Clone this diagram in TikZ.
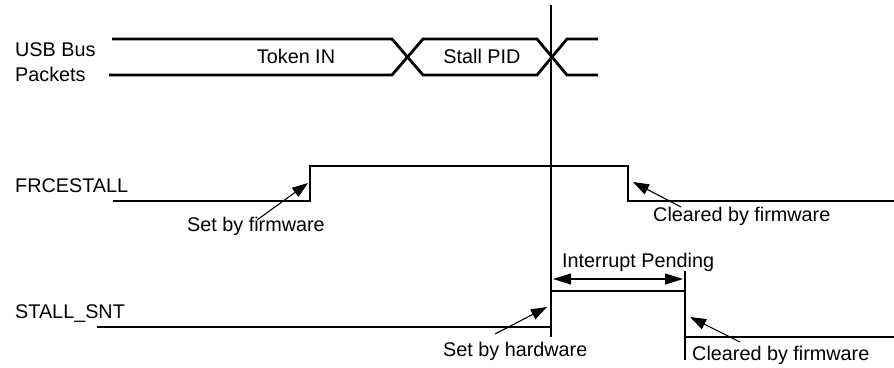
\documentclass[tikz,border=0pt]{standalone}
\usepackage{fontspec}
\setmainfont{Liberation Sans}
\usetikzlibrary{arrows.meta}
\tikzset{
  sig/.style={line width=2.8pt, line join=miter},
  marker/.style={line width=1.1pt},
  note/.style={line width=1.1pt, -{Triangle[length=16pt,width=11pt]}},
  span/.style={line width=1.1pt, {Triangle[length=18pt,width=11pt]}-{Triangle[length=18pt,width=11pt]}},
  txt/.style={anchor=base west, inner sep=0pt, font=\fontsize{19.8}{23}\selectfont}
}
\begin{document}
\begin{tikzpicture}[x=1pt, y=-1pt]
    \useasboundingbox (0,0) rectangle (894,367);

    % signal names on the left
    \node[txt] (usbA) at (15,56) {USB Bus};
    \node[txt] (usbB) at (15,81) {Packets};
    \node[txt] (frcName) at (15,192) {FRCESTALL};
    \node[txt] (sntName) at (15,318) {STALL\_SNT};

    % bus packets (two lines with crossings)
    \draw[sig] (112,39) -- (392,39) -- (423,75) -- (537,75) -- (567,39) -- (598,39);
    \draw[sig] (109,75) -- (392,75) -- (423,39) -- (537,39) -- (567,75) -- (598,75);
    \node[txt, anchor=base] (tokIn) at (296,63) {Token IN};
    \node[txt, anchor=base] (stallPid) at (482,63) {Stall PID};

    % FRCESTALL waveform
    \coordinate (frcUp) at (308,183);
    \coordinate (frcDown) at (633,182);
    \draw[sig] (113,201) -- (310,201) -- (310,166) -- (628,166) -- (628,201) -- (894,201);

    % STALL_SNT waveform
    \coordinate (sntUp) at (547,307);
    \coordinate (sntDown) at (690,317);
    \draw[sig] (97,327) -- (551,327) -- (551,291) -- (685,291) -- (685,337) -- (894,337);

    % reference lines
    \coordinate (refTop) at (551,5);
    \coordinate (refBot) at (551,337);
    \draw[marker] (refTop) -- (refBot);
    \coordinate (pendTop) at (685,271);
    \coordinate (pendBot) at (685,360);
    \draw[marker] (pendTop) -- (pendBot);

    % interrupt pending span
    \node[txt] (pendTxt) at (562,267) {Interrupt Pending};
    \coordinate (spanL) at (553,279);
    \coordinate (spanR) at (683,279);
    \draw[span] (spanL) -- (spanR);

    % annotations
    \node[txt] (setFw) at (187,231) {Set by firmware};
    \coordinate (setFwTail) at (257,220);
    \draw[note] (setFwTail) -- (frcUp);

    \node[txt] (clrFwA) at (653,221) {Cleared by firmware};
    \coordinate (clrFwATail) at (681,207);
    \draw[note] (clrFwATail) -- (frcDown);

    \node[txt] (setHw) at (443,356) {Set by hardware};
    \coordinate (setHwTail) at (495,334);
    \draw[note] (setHwTail) -- (sntUp);

    \node[txt] (clrFwB) at (692,360) {Cleared by firmware};
    \coordinate (clrFwBTail) at (740,342);
    \draw[note] (clrFwBTail) -- (sntDown);

\end{tikzpicture}
\end{document}
